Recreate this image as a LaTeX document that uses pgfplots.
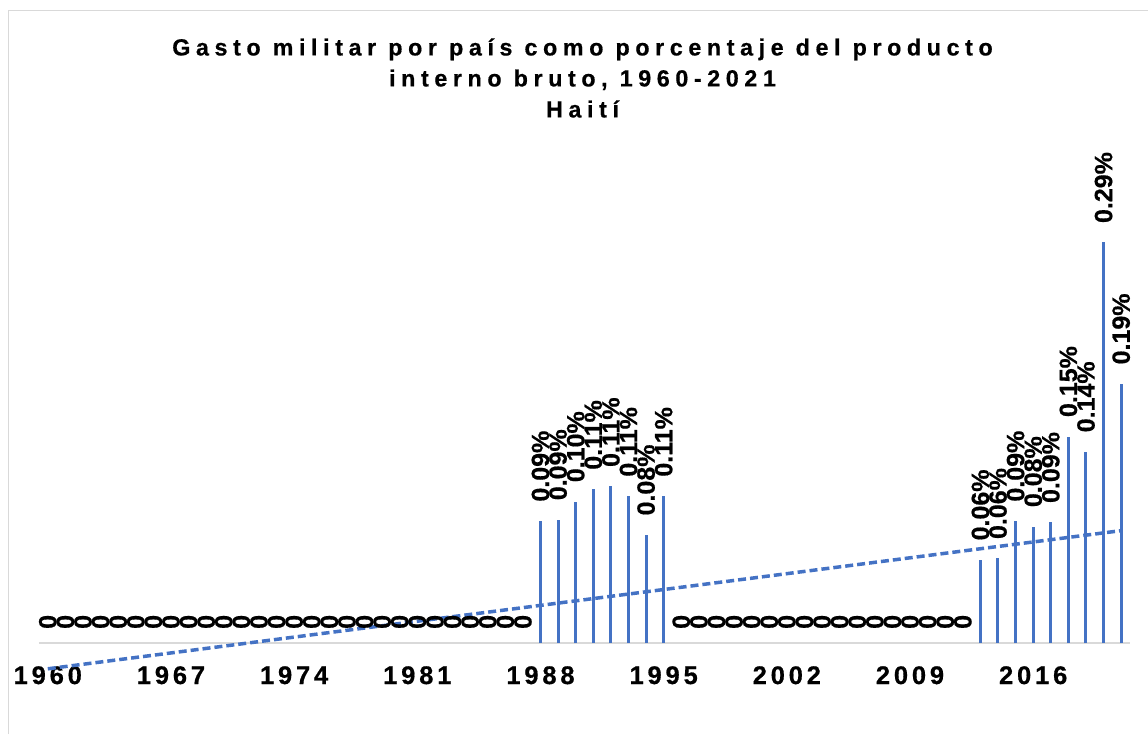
\documentclass[border=0pt]{standalone}
\usepackage{pgfplots}
\pgfplotsset{compat=1.18}
\usepackage{pgfplotstable}
\usepackage{fontspec}
\setmainfont{Liberation Sans}[BoldFeatures={FakeBold=0.6}]
\newfontfamily\titlefont{Liberation Sans}[LetterSpace=24, BoldFeatures={FakeBold=0.6}]
\newfontfamily\tickfont{Liberation Sans}[LetterSpace=15, BoldFeatures={FakeBold=0.6}]
\definecolor{barblue}{HTML}{4472C4}
\definecolor{axisgray}{HTML}{D9D9D9}

\pgfplotstableread{
year val lab
1988 0.088 0.09\%
1989 0.089 0.09\%
1990 0.102 0.10\%
1991 0.111 0.11\%
1992 0.113 0.11\%
1993 0.106 0.11\%
1994 0.078 0.08\%
1995 0.106 0.11\%
2013 0.060 0.06\%
2014 0.061 0.06\%
2015 0.088 0.09\%
2016 0.084 0.08\%
2017 0.087 0.09\%
2018 0.149 0.15\%
2019 0.138 0.14\%
2020 0.289 0.29\%
2021 0.187 0.19\%
}\nonzero

\pgfplotstableread{
year val
1960 0
1961 0
1962 0
1963 0
1964 0
1965 0
1966 0
1967 0
1968 0
1969 0
1970 0
1971 0
1972 0
1973 0
1974 0
1975 0
1976 0
1977 0
1978 0
1979 0
1980 0
1981 0
1982 0
1983 0
1984 0
1985 0
1986 0
1987 0
1996 0
1997 0
1998 0
1999 0
2000 0
2001 0
2002 0
2003 0
2004 0
2005 0
2006 0
2007 0
2008 0
2009 0
2010 0
2011 0
2012 0
}\zeros

\begin{document}
\begin{tikzpicture}
\useasboundingbox (-39pt,-49.4pt) rectangle (1109pt,684.6pt);
\draw[axisgray, line width=1pt] (-30pt,-49.4pt) -- (-30pt,673.6pt) -- (1109pt,673.6pt);
\begin{axis}[
  at={(0pt,0pt)}, anchor=south west,
  scale only axis, width=1091pt, height=540.5pt,
  xmin=1959.5, xmax=2021.5, ymin=-0.03, ymax=0.36,
  axis x line*=middle, axis y line=none,
  x axis line style={draw=axisgray, line width=1.5pt},
  xtick={1960,1967,1974,1981,1988,1995,2002,2009,2016},
  xticklabels={1960,1967,1974,1981,1988,1995,2002,2009,2016},
  major tick length=0pt,
  xticklabel style={font=\tickfont\bfseries\fontsize{25.5}{25.5}\selectfont, inner sep=0pt, anchor=north, yshift=-23pt},
  ytick=\empty,
  clip=false,
]
\addplot[ycomb, draw=barblue, line width=3pt, mark=none,
  nodes near coords, point meta=explicit symbolic,
  every node near coord/.style={yshift=18pt, rotate=90, anchor=west, inner sep=0pt, text=black, font=\bfseries\fontsize{25}{25}\selectfont}]
  table[x=year, y=val, meta=lab] {\nonzero};
\addplot[draw=none, mark=none,
  nodes near coords={0},
  every node near coord/.style={yshift=14pt, rotate=90, anchor=west, inner sep=0pt, text=black, font=\bfseries\fontsize{25}{25}\selectfont}]
  table[x=year, y=val] {\zeros};
\addplot[barblue, line width=3.5pt, dash pattern=on 8pt off 4pt, mark=none]
  coordinates {(1960,-0.0186) (2021,0.0811)};
\end{axis}
\node[align=center, font=\titlefont\bfseries\fontsize{23.3}{31}\selectfont] at (543.5pt,606.6pt)
  {Gasto militar por país como porcentaje del producto\\interno bruto, 1960-2021\\Haití};
\end{tikzpicture}
\end{document}
